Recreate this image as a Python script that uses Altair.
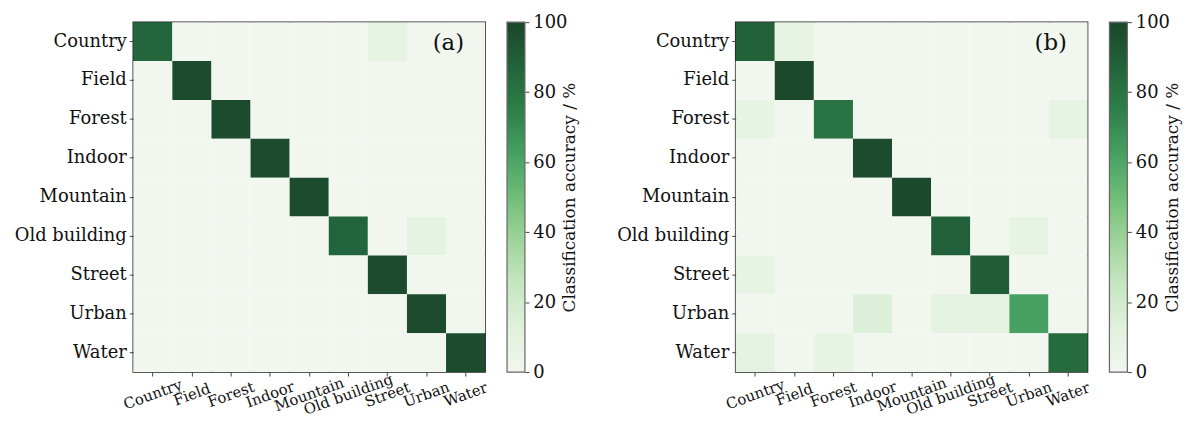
import altair as alt
import pandas as pd

categories = ["Country", "Field", "Forest", "Indoor", "Mountain",
              "Old building", "Street", "Urban", "Water"]

# rows = true class, columns = predicted class (percent)
acc_a = [
    [86, 0, 0, 0, 0, 0, 8, 0, 0],
    [0, 98, 0, 0, 0, 0, 0, 0, 0],
    [0, 0, 98, 0, 0, 0, 0, 0, 0],
    [0, 0, 0, 98, 0, 0, 0, 0, 0],
    [0, 0, 0, 0, 98, 0, 0, 0, 0],
    [0, 0, 0, 0, 0, 87, 0, 9, 0],
    [0, 0, 0, 0, 0, 0, 98, 0, 0],
    [0, 0, 0, 0, 0, 0, 0, 98, 0],
    [0, 0, 0, 0, 0, 0, 0, 0, 98],
]

acc_b = [
    [88, 8, 0, 0, 0, 0, 0, 0, 0],
    [0, 99, 0, 0, 0, 0, 0, 0, 0],
    [8, 0, 80, 0, 0, 0, 0, 0, 8],
    [0, 0, 0, 98, 0, 0, 0, 0, 0],
    [0, 0, 0, 0, 99, 0, 0, 0, 0],
    [0, 0, 0, 0, 0, 89, 0, 8, 0],
    [8, 0, 0, 0, 0, 0, 90, 0, 0],
    [0, 0, 0, 15, 0, 10, 10, 62, 0],
    [10, 0, 8, 0, 0, 0, 0, 0, 84],
]

tags = ["(a)", "(b)"]
bar_ticks = [0, 20, 40, 60, 80, 100]
green_range = ["#f1f7ef", "#e1f1dd", "#c6e6c2", "#9fd49b", "#70bd78",
               "#46a062", "#2e7f48", "#22633a", "#1b462a"]
bar_title = "Classification accuracy / %"

FONT = "DejaVu Serif"
TXT = "#111"
W, H = 354, 352


def to_long(matrix):
    rows = []
    for i, t in enumerate(categories):
        for j, p in enumerate(categories):
            rows.append({"true": t, "pred": p, "value": matrix[i][j]})
    return pd.DataFrame(rows)


color_scale = alt.Scale(domain=[0, 100], range=green_range, interpolate="rgb")


def panel(matrix, tag):
    df = to_long(matrix)
    rect = alt.Chart(df).mark_rect().encode(
        x=alt.X("pred:N", sort=categories, title=None,
                scale=alt.Scale(paddingInner=0, paddingOuter=0),
                axis=alt.Axis(labelAngle=340, labelAlign="center",
                              labelBaseline="middle", labelFontSize=15,
                              labelPadding=18, tickSize=4, tickColor="#444",
                              domain=False, labelColor=TXT)),
        y=alt.Y("true:N", sort=categories, title=None,
                scale=alt.Scale(paddingInner=0, paddingOuter=0),
                axis=alt.Axis(labelFontSize=18, labelPadding=3, tickSize=4,
                              tickColor="#444", domain=False,
                              labelColor=TXT)),
        color=alt.Color("value:Q", scale=color_scale, legend=None),
    )
    label = alt.Chart(pd.DataFrame({"t": [tag]})).mark_text(
        fontSize=23, font=FONT, color=TXT, align="center",
        baseline="middle").encode(
        text="t:N", x=alt.value(317), y=alt.value(21))

    n = len(green_range) - 1
    grad = alt.LinearGradient(
        gradient="linear", x1=0, y1=1, x2=0, y2=0,
        stops=[alt.GradientStop(offset=i / n, color=c)
               for i, c in enumerate(green_range)])
    bar_df = pd.DataFrame({"lo": [bar_ticks[0]], "hi": [bar_ticks[-1]]})
    bar = alt.Chart(bar_df).mark_rect(fill=grad, stroke="#666",
                                      strokeWidth=1.2).encode(
        x=alt.value(W + 22), x2=alt.value(W + 40),
        y=alt.Y("lo:Q", scale=alt.Scale(domain=[0, 100], nice=False),
                axis=alt.Axis(orient="right", offset=40, values=bar_ticks,
                              grid=False, domain=False, tickSize=4,
                              tickColor="#444", labelFontSize=18,
                              labelPadding=4, labelColor=TXT,
                              title=bar_title, titleAngle=270,
                              titleFontSize=17, titleFontWeight="normal",
                              titleColor=TXT, titlePadding=12)),
        y2="hi:Q",
    )
    return alt.layer(rect, label, bar).resolve_scale(y="independent").properties(
        width=W, height=H)


chart = alt.hconcat(panel(acc_a, tags[0]), panel(acc_b, tags[1]),
                    spacing=36).configure(font=FONT).configure_view(
    stroke="#222", strokeWidth=1.5).properties(
    padding={"left": 5, "top": 3, "right": 2, "bottom": 5})

chart.save("out.html", embed_options={"renderer": "svg", "actions": False})
